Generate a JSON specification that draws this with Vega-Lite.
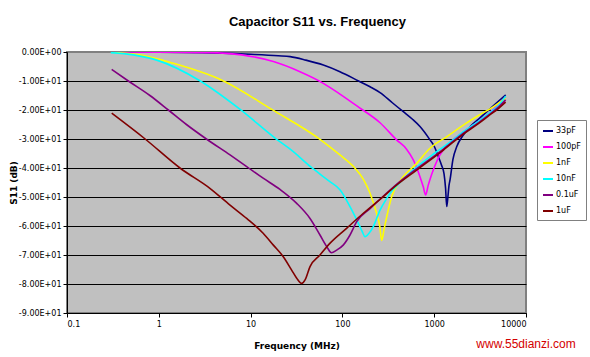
{
  "$schema": "https://vega.github.io/schema/vega-lite/v6.json",
  "autosize": "none",
  "width": 459,
  "height": 261,
  "padding": {"left": 67, "top": 52, "right": 64, "bottom": 44},
  "background": "white",
  "title": {
    "text": "Capacitor S11 vs. Frequency",
    "font": "Liberation Sans",
    "fontSize": 13,
    "fontWeight": "bold",
    "color": "black",
    "anchor": "middle",
    "dx": 21,
    "offset": 19
  },
  "config": {
    "view": {"fill": "#C0C0C0", "stroke": "#808080", "strokeWidth": 2},
    "axis": {
      "labelFont": "DejaVu Sans",
      "labelFontSize": 8,
      "labelColor": "black",
      "labelOverlap": false,
      "titleFont": "DejaVu Sans",
      "titleFontSize": 9,
      "titleFontWeight": "bold",
      "titleColor": "black",
      "domainColor": "black",
      "domainWidth": 1,
      "tickColor": "black",
      "tickSize": 4
    }
  },
  "datasets": {
    "curves": [
      {"s": "33pF", "f": 0.3, "db": -0.02},
      {"s": "33pF", "f": 1, "db": -0.05},
      {"s": "33pF", "f": 3, "db": -0.2},
      {"s": "33pF", "f": 5, "db": -0.4},
      {"s": "33pF", "f": 10, "db": -0.8},
      {"s": "33pF", "f": 20, "db": -1.3},
      {"s": "33pF", "f": 27, "db": -1.6},
      {"s": "33pF", "f": 40, "db": -2.8},
      {"s": "33pF", "f": 62, "db": -4.5},
      {"s": "33pF", "f": 94, "db": -6.8},
      {"s": "33pF", "f": 150, "db": -10},
      {"s": "33pF", "f": 200, "db": -12},
      {"s": "33pF", "f": 257, "db": -14},
      {"s": "33pF", "f": 350, "db": -17.5},
      {"s": "33pF", "f": 461, "db": -20.6},
      {"s": "33pF", "f": 580, "db": -23.2},
      {"s": "33pF", "f": 700, "db": -25.7},
      {"s": "33pF", "f": 900, "db": -30.3},
      {"s": "33pF", "f": 1000, "db": -32.5},
      {"s": "33pF", "f": 1110, "db": -36.1},
      {"s": "33pF", "f": 1200, "db": -39},
      {"s": "33pF", "f": 1280, "db": -42},
      {"s": "33pF", "f": 1330, "db": -47},
      {"s": "33pF", "f": 1370, "db": -53.3},
      {"s": "33pF", "f": 1410, "db": -50},
      {"s": "33pF", "f": 1450, "db": -46},
      {"s": "33pF", "f": 1487, "db": -44.1},
      {"s": "33pF", "f": 1600, "db": -37},
      {"s": "33pF", "f": 1757, "db": -32.7},
      {"s": "33pF", "f": 2076, "db": -28.6},
      {"s": "33pF", "f": 2500, "db": -25.5},
      {"s": "33pF", "f": 3000, "db": -23.3},
      {"s": "33pF", "f": 4000, "db": -19.8},
      {"s": "33pF", "f": 5000, "db": -17},
      {"s": "33pF", "f": 6000, "db": -14.8},

      {"s": "100pF", "f": 0.3, "db": 0},
      {"s": "100pF", "f": 1, "db": -0.05},
      {"s": "100pF", "f": 3.6, "db": -0.2},
      {"s": "100pF", "f": 8, "db": -1},
      {"s": "100pF", "f": 17.7, "db": -3.3},
      {"s": "100pF", "f": 34.5, "db": -6.8},
      {"s": "100pF", "f": 62, "db": -10.8},
      {"s": "100pF", "f": 94, "db": -14.5},
      {"s": "100pF", "f": 150, "db": -19},
      {"s": "100pF", "f": 257, "db": -24.4},
      {"s": "100pF", "f": 389, "db": -30.3},
      {"s": "100pF", "f": 500, "db": -33.5},
      {"s": "100pF", "f": 592, "db": -37.2},
      {"s": "100pF", "f": 700, "db": -43},
      {"s": "100pF", "f": 760, "db": -46.5},
      {"s": "100pF", "f": 807, "db": -49.3},
      {"s": "100pF", "f": 860, "db": -46},
      {"s": "100pF", "f": 920, "db": -43},
      {"s": "100pF", "f": 977, "db": -40.7},
      {"s": "100pF", "f": 1155, "db": -35.5},
      {"s": "100pF", "f": 1400, "db": -32},
      {"s": "100pF", "f": 2000, "db": -28},
      {"s": "100pF", "f": 3000, "db": -24},
      {"s": "100pF", "f": 4000, "db": -21},
      {"s": "100pF", "f": 5000, "db": -18},
      {"s": "100pF", "f": 6000, "db": -15.5},

      {"s": "1nF", "f": 0.3, "db": -0.1},
      {"s": "1nF", "f": 0.62, "db": -1},
      {"s": "1nF", "f": 1.44, "db": -3.9},
      {"s": "1nF", "f": 5, "db": -9.9},
      {"s": "1nF", "f": 17, "db": -19.8},
      {"s": "1nF", "f": 57, "db": -30.1},
      {"s": "1nF", "f": 94, "db": -35.5},
      {"s": "1nF", "f": 132, "db": -39.5},
      {"s": "1nF", "f": 170, "db": -44},
      {"s": "1nF", "f": 200, "db": -48.7},
      {"s": "1nF", "f": 236, "db": -55.6},
      {"s": "1nF", "f": 255, "db": -60},
      {"s": "1nF", "f": 268, "db": -65},
      {"s": "1nF", "f": 285, "db": -61},
      {"s": "1nF", "f": 304, "db": -56.8},
      {"s": "1nF", "f": 344, "db": -49.9},
      {"s": "1nF", "f": 424, "db": -44.5},
      {"s": "1nF", "f": 644, "db": -38.4},
      {"s": "1nF", "f": 900, "db": -33.2},
      {"s": "1nF", "f": 1400, "db": -29},
      {"s": "1nF", "f": 2080, "db": -25.2},
      {"s": "1nF", "f": 3000, "db": -22},
      {"s": "1nF", "f": 4400, "db": -18.9},
      {"s": "1nF", "f": 6000, "db": -15.8},

      {"s": "10nF", "f": 0.3, "db": -0.2},
      {"s": "10nF", "f": 0.53, "db": -1},
      {"s": "10nF", "f": 0.95, "db": -2.8},
      {"s": "10nF", "f": 2.8, "db": -9.9},
      {"s": "10nF", "f": 7.7, "db": -19.8},
      {"s": "10nF", "f": 19.2, "db": -30.1},
      {"s": "10nF", "f": 27, "db": -33.5},
      {"s": "10nF", "f": 46, "db": -39.8},
      {"s": "10nF", "f": 73, "db": -44.7},
      {"s": "10nF", "f": 94, "db": -47.5},
      {"s": "10nF", "f": 121, "db": -53.3},
      {"s": "10nF", "f": 149, "db": -59},
      {"s": "10nF", "f": 165, "db": -62},
      {"s": "10nF", "f": 176, "db": -63.7},
      {"s": "10nF", "f": 195, "db": -62.5},
      {"s": "10nF", "f": 217, "db": -60.2},
      {"s": "10nF", "f": 257, "db": -54.5},
      {"s": "10nF", "f": 304, "db": -50.5},
      {"s": "10nF", "f": 330, "db": -48.7},
      {"s": "10nF", "f": 389, "db": -46.2},
      {"s": "10nF", "f": 600, "db": -40.5},
      {"s": "10nF", "f": 1000, "db": -35},
      {"s": "10nF", "f": 1500, "db": -31},
      {"s": "10nF", "f": 2080, "db": -27.5},
      {"s": "10nF", "f": 3000, "db": -24},
      {"s": "10nF", "f": 4000, "db": -21},
      {"s": "10nF", "f": 5000, "db": -18.5},
      {"s": "10nF", "f": 6000, "db": -15.2},

      {"s": "0.1uF", "f": 0.307, "db": -6},
      {"s": "0.1uF", "f": 0.466, "db": -10},
      {"s": "0.1uF", "f": 0.8, "db": -15},
      {"s": "0.1uF", "f": 1.27, "db": -20},
      {"s": "0.1uF", "f": 2, "db": -25},
      {"s": "0.1uF", "f": 3.3, "db": -30},
      {"s": "0.1uF", "f": 5.97, "db": -35.5},
      {"s": "0.1uF", "f": 9.06, "db": -39.5},
      {"s": "0.1uF", "f": 13.7, "db": -43.5},
      {"s": "0.1uF", "f": 20.9, "db": -47.4},
      {"s": "0.1uF", "f": 31.8, "db": -52.2},
      {"s": "0.1uF", "f": 44.4, "db": -57.4},
      {"s": "0.1uF", "f": 57, "db": -63.1},
      {"s": "0.1uF", "f": 67.5, "db": -67.1},
      {"s": "0.1uF", "f": 76, "db": -69.2},
      {"s": "0.1uF", "f": 86.7, "db": -68.3},
      {"s": "0.1uF", "f": 102, "db": -66.6},
      {"s": "0.1uF", "f": 121, "db": -63.1},
      {"s": "0.1uF", "f": 143, "db": -58.5},
      {"s": "0.1uF", "f": 200, "db": -54},
      {"s": "0.1uF", "f": 389, "db": -45.6},
      {"s": "0.1uF", "f": 1260, "db": -33.5},
      {"s": "0.1uF", "f": 2080, "db": -28},
      {"s": "0.1uF", "f": 3000, "db": -24.5},
      {"s": "0.1uF", "f": 4000, "db": -21.5},
      {"s": "0.1uF", "f": 5000, "db": -19},
      {"s": "0.1uF", "f": 6000, "db": -16.5},

      {"s": "1uF", "f": 0.307, "db": -21.1},
      {"s": "1uF", "f": 0.71, "db": -30},
      {"s": "1uF", "f": 1.7, "db": -40},
      {"s": "1uF", "f": 3.6, "db": -47},
      {"s": "1uF", "f": 5.97, "db": -52.8},
      {"s": "1uF", "f": 9.06, "db": -57.4},
      {"s": "1uF", "f": 13.7, "db": -62.5},
      {"s": "1uF", "f": 17.7, "db": -66.6},
      {"s": "1uF", "f": 22.7, "db": -70.6},
      {"s": "1uF", "f": 28, "db": -75.2},
      {"s": "1uF", "f": 31.8, "db": -78},
      {"s": "1uF", "f": 36, "db": -79.8},
      {"s": "1uF", "f": 39.2, "db": -78.6},
      {"s": "1uF", "f": 44.4, "db": -74},
      {"s": "1uF", "f": 57, "db": -70},
      {"s": "1uF", "f": 73, "db": -66},
      {"s": "1uF", "f": 111, "db": -60.8},
      {"s": "1uF", "f": 169, "db": -55.6},
      {"s": "1uF", "f": 257, "db": -50.8},
      {"s": "1uF", "f": 389, "db": -45.9},
      {"s": "1uF", "f": 644, "db": -40.7},
      {"s": "1uF", "f": 1260, "db": -33.8},
      {"s": "1uF", "f": 2080, "db": -28.3},
      {"s": "1uF", "f": 3000, "db": -24.8},
      {"s": "1uF", "f": 4000, "db": -21.8},
      {"s": "1uF", "f": 5000, "db": -19.5},
      {"s": "1uF", "f": 6000, "db": -17.3}
    ],
    "marks": [
      {"label": "www.55dianzi.com", "f": 10000, "db": -100.7}
    ]
  },
  "layer": [
    {
      "data": {"name": "curves"},
      "mark": {"type": "line", "strokeWidth": 1.6, "clip": true, "interpolate": "monotone"},
      "encoding": {
        "x": {
          "field": "f",
          "type": "quantitative",
          "scale": {"type": "log", "domain": [0.1, 10000], "nice": false},
          "axis": {
            "title": "Frequency (MHz)",
            "values": [0.1, 1, 10, 100, 1000, 10000],
            "tickCount": 20,
            "labelExpr": "datum.value < 1 ? '0.1' : format(datum.value, 'd')",
            "grid": false,
            "labelOverlap": false,
            "labelPadding": 3,
            "titlePadding": 13
          }
        },
        "y": {
          "field": "db",
          "type": "quantitative",
          "scale": {"domain": [-90, 0], "nice": false, "zero": false},
          "axis": {
            "title": "S11 (dB)",
            "values": [-90, -80, -70, -60, -50, -40, -30, -20, -10, 0],
            "tickCount": 20,
            "labelExpr": "datum.value == 0 ? '0.00E+00' : '-' + format(abs(datum.value) / 10, '.2f') + 'E+01'",
            "labelOverlap": false,
            "labelBound": false,
            "grid": true,
            "gridColor": {"condition": {"test": "datum.value === 0", "value": "#808080"}, "value": "black"},
            "gridOpacity": 1,
            "gridWidth": 1,
            "labelPadding": 2,
            "titlePadding": 0
          }
        },
        "color": {
          "field": "s",
          "type": "nominal",
          "scale": {
            "domain": ["33pF", "100pF", "1nF", "10nF", "0.1uF", "1uF"],
            "range": ["#000080", "#FF00FF", "#FFFF00", "#00FFFF", "#800080", "#800000"]
          },
          "legend": {
            "title": null,
            "orient": "none",
            "legendX": 470,
            "legendY": 68,
            "symbolType": "stroke",
            "symbolSize": 100,
            "symbolStrokeWidth": 2,
            "labelFont": "DejaVu Sans",
            "labelFontSize": 8,
            "labelColor": "black",
            "labelOffset": 2,
            "rowPadding": 6,
            "padding": 5,
            "fillColor": "white",
            "strokeColor": "#808080",
            "cornerRadius": 0
          }
        }
      }
    },
    {
      "data": {"name": "marks"},
      "mark": {"type": "text", "font": "Liberation Sans", "fontSize": 12, "color": "#D40000", "align": "center", "baseline": "middle", "clip": false},
      "encoding": {
        "x": {"field": "f", "type": "quantitative"},
        "y": {"field": "db", "type": "quantitative"},
        "text": {"field": "label"}
      }
    }
  ]
}
